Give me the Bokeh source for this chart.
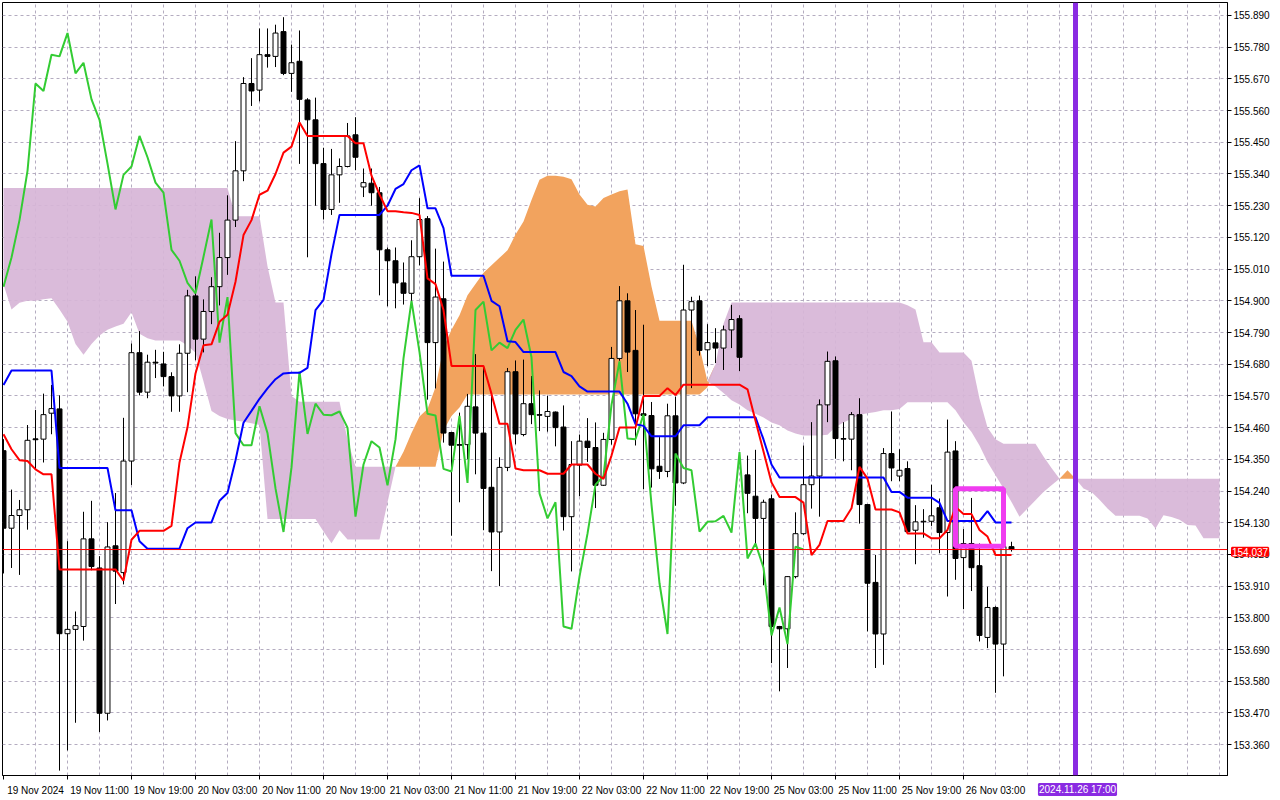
import numpy as np
from bokeh.plotting import figure
from bokeh.layouts import column
from bokeh.models import FixedTicker, Span, Label, Range1d, PrintfTickFormatter
from bokeh.embed import file_html
from bokeh.resources import INLINE

# ---------------- data (H1 bars, bar index 0..126) ----------------
open_ = [154.380,154.111,154.155,154.175,154.421,154.420,154.510,154.525,153.745,153.760,
         153.770,154.074,153.973,153.469,154.050,153.957,154.344,154.720,154.583,154.687,
         154.681,154.637,154.570,154.718,154.917,154.767,154.863,154.949,155.050,155.180,
         155.351,155.654,155.631,155.754,155.748,155.834,155.689,155.731,155.597,155.528,
         155.376,155.217,155.337,155.366,155.476,155.295,155.308,155.275,155.077,155.039,
         154.962,154.926,155.053,155.185,154.755,154.907,154.443,154.401,154.401,154.532,
         154.441,154.253,154.098,154.322,154.654,154.436,154.543,154.505,154.499,154.514,
         154.462,154.151,154.330,154.413,154.391,154.260,154.419,154.700,154.900,154.728,
         154.508,154.502,154.326,154.308,154.501,154.268,154.868,154.900,154.730,154.754,
         154.736,154.799,154.838,154.296,154.222,154.145,154.213,153.770,153.762,153.943,
         154.092,154.262,154.292,154.539,154.692,154.422,154.420,154.505,154.193,153.923,
         153.744,154.370,154.292,154.318,154.104,154.133,154.135,154.182,154.096,154.379,
         154.009,154.058,153.981,153.732,153.836,153.709,154.047]
high = [154.420,154.245,154.209,154.469,154.521,154.578,154.608,154.572,154.066,153.822,
        154.168,154.206,154.014,154.132,154.233,154.494,154.752,154.795,154.713,154.730,
        154.723,154.652,154.749,154.938,154.985,154.905,154.982,155.136,155.266,155.454,
        155.676,155.742,155.845,155.845,155.858,155.884,155.789,155.838,155.603,155.605,
        155.431,155.427,155.394,155.517,155.537,155.359,155.359,155.295,155.085,155.085,
        155.033,155.110,155.256,155.194,155.081,155.036,154.445,154.512,154.577,154.715,
        154.674,154.577,154.357,154.667,154.693,154.696,154.639,154.589,154.570,154.516,
        154.537,154.413,154.436,154.493,154.478,154.442,154.740,154.951,154.926,154.868,
        154.817,154.549,154.427,154.543,154.567,155.025,154.914,154.918,154.819,154.805,
        154.814,154.886,154.850,154.363,154.383,154.210,154.228,153.772,153.945,154.166,
        154.398,154.479,154.558,154.724,154.707,154.479,154.514,154.562,154.195,154.018,
        154.389,154.516,154.385,154.343,154.191,154.177,154.262,154.214,154.488,154.413,
        154.108,154.216,154.058,153.908,153.840,154.058,154.064]
low = [153.954,153.973,153.949,154.106,154.315,154.339,154.437,153.270,153.340,153.436,
       153.721,153.965,153.404,153.444,153.848,153.916,154.261,154.572,154.562,154.632,
       154.603,154.515,154.515,154.583,154.694,154.721,154.819,154.884,154.990,155.156,
       155.315,155.576,155.592,155.709,155.711,155.683,155.625,155.375,155.051,155.230,
       155.182,155.198,155.240,155.363,155.353,155.260,155.230,154.919,154.881,154.874,
       154.887,154.900,155.023,154.557,154.596,154.408,154.085,154.201,154.350,154.298,
       154.104,153.962,153.910,154.309,154.402,154.430,154.472,154.448,154.446,154.395,
       154.103,153.961,154.222,154.341,154.181,154.258,154.401,154.692,154.653,154.398,
       154.246,154.252,154.282,154.288,154.189,154.264,154.597,154.710,154.674,154.684,
       154.660,154.736,154.656,154.163,154.050,153.913,153.643,153.545,153.626,153.937,
       154.088,154.179,154.151,154.479,154.352,154.343,154.312,154.127,153.753,153.626,
       153.637,154.274,154.274,154.095,153.986,154.078,154.119,154.024,153.874,153.932,
       153.830,153.893,153.718,153.695,153.540,153.597,154.030]
close = [154.111,154.155,154.175,154.416,154.418,154.505,154.526,153.745,153.760,153.773,
         154.074,153.978,153.469,154.046,153.962,154.344,154.720,154.583,154.687,154.684,
         154.637,154.570,154.718,154.917,154.767,154.863,154.949,155.050,155.180,155.351,
         155.654,155.628,155.754,155.748,155.829,155.689,155.726,155.599,155.528,155.376,
         155.217,155.337,155.366,155.472,155.398,155.310,155.275,155.077,155.039,154.962,
         154.926,155.053,155.182,154.755,154.913,154.441,154.399,154.399,154.534,154.441,
         154.249,154.098,154.322,154.654,154.438,154.543,154.505,154.503,154.516,154.460,
         154.151,154.332,154.413,154.391,154.260,154.419,154.700,154.900,154.722,154.508,
         154.502,154.317,154.308,154.501,154.268,154.868,154.897,154.728,154.755,154.736,
         154.799,154.835,154.704,154.232,154.145,154.201,153.770,153.762,153.943,154.092,
         154.262,154.292,154.539,154.690,154.422,154.420,154.505,154.193,153.920,153.744,
         154.370,154.320,154.312,154.099,154.133,154.135,154.154,154.096,154.375,154.006,
         154.058,153.974,153.739,153.836,153.709,154.047,154.037]

tenkan = [154.437,154.385,154.347,154.344,154.315,154.298,154.298,153.968,153.968,153.968,
          153.968,153.968,153.968,153.968,153.968,153.929,154.071,154.102,154.102,154.102,
          154.102,154.119,154.339,154.461,154.648,154.746,154.749,154.827,154.852,154.966,
          155.128,155.180,155.268,155.282,155.340,155.414,155.435,155.519,155.472,155.472,
          155.472,155.472,155.472,155.472,155.447,155.447,155.334,155.269,155.211,155.211,
          155.207,155.205,155.198,154.978,154.958,154.868,154.674,154.674,154.674,154.674,
          154.674,154.577,154.473,154.473,154.318,154.312,154.312,154.312,154.300,154.300,
          154.300,154.332,154.332,154.332,154.300,154.282,154.363,154.460,154.460,154.460,
          154.570,154.570,154.570,154.597,154.573,154.609,154.609,154.609,154.609,154.609,
          154.609,154.609,154.609,154.593,154.484,154.377,154.270,154.219,154.219,154.219,
          154.200,154.018,154.053,154.136,154.136,154.136,154.180,154.324,154.283,154.176,
          154.176,154.176,154.166,154.093,154.093,154.093,154.076,154.076,154.105,154.185,
          154.160,154.160,154.105,154.082,154.018,154.018,154.018]
kijun = [154.608,154.658,154.658,154.658,154.658,154.658,154.658,154.320,154.320,154.320,
         154.320,154.320,154.320,154.320,154.173,154.173,154.173,154.066,154.040,154.040,
         154.040,154.040,154.040,154.111,154.131,154.131,154.131,154.206,154.233,154.347,
         154.477,154.518,154.560,154.596,154.628,154.648,154.650,154.650,154.667,154.868,
         154.903,155.062,155.198,155.198,155.198,155.198,155.198,155.198,155.230,155.288,
         155.305,155.353,155.370,155.221,155.221,155.152,154.987,154.987,154.987,154.987,
         154.987,154.900,154.881,154.760,154.757,154.722,154.722,154.722,154.722,154.722,
         154.653,154.639,154.603,154.585,154.585,154.585,154.585,154.585,154.543,154.472,
         154.466,154.430,154.430,154.430,154.430,154.468,154.468,154.468,154.496,154.496,
         154.496,154.496,154.496,154.496,154.496,154.419,154.332,154.287,154.287,154.287,
         154.287,154.287,154.287,154.287,154.287,154.287,154.287,154.287,154.287,154.287,
         154.287,154.237,154.237,154.217,154.217,154.217,154.217,154.199,154.136,154.136,
         154.136,154.136,154.136,154.170,154.131,154.131,154.131]

# Senkou spans, already displaced 26 bars ahead (bar index 0..152)
span_a = [154.957,154.870,154.893,154.900,154.900,154.905,154.909,154.870,154.827,154.750,
          154.713,154.750,154.780,154.800,154.811,154.820,154.860,154.786,154.770,154.762,
          154.762,154.762,154.762,154.745,154.720,154.620,154.518,154.500,154.490,154.485,
          154.480,154.475,154.469,154.143,154.143,154.143,154.143,154.143,154.143,154.143,
          154.100,154.059,154.104,154.072,154.072,154.072,154.072,154.072,154.200,154.324,
          154.376,154.441,154.499,154.525,154.600,154.738,154.800,154.850,154.919,154.958,
          154.997,155.023,155.049,155.075,155.130,155.175,155.250,155.320,155.334,155.334,
          155.330,155.322,155.269,155.233,155.227,155.257,155.269,155.280,155.286,155.096,
          155.090,154.950,154.831,154.831,154.831,154.831,154.831,154.740,154.620,154.603,
          154.580,154.555,154.540,154.520,154.508,154.495,154.478,154.468,154.450,154.440,
          154.433,154.433,154.433,154.435,154.462,154.478,154.491,154.505,154.510,154.514,
          154.520,154.520,154.525,154.548,154.548,154.548,154.548,154.548,154.548,154.520,
          154.479,154.445,154.398,154.341,154.295,154.249,154.202,154.151,154.179,154.208,
          154.237,154.260,154.283,154.312,154.283,154.249,154.237,154.210,154.179,154.154,
          154.154,154.154,154.154,154.145,154.110,154.156,154.150,154.140,154.122,154.120,
          154.076,154.076,154.076]
span_b = [155.291,155.291,155.291,155.291,155.291,155.291,155.291,155.291,155.291,155.291,
          155.291,155.291,155.291,155.291,155.291,155.291,155.291,155.291,155.291,155.291,
          155.291,155.291,155.291,155.291,155.291,155.291,155.291,155.291,155.291,155.193,
          155.193,155.193,155.193,155.020,154.894,154.894,154.570,154.550,154.550,154.550,
          154.550,154.550,154.550,154.420,154.324,154.324,154.324,154.324,154.324,154.324,
          154.324,154.324,154.324,154.324,154.324,154.450,154.500,154.530,154.575,154.575,
          154.575,154.575,154.575,154.575,154.575,154.575,154.575,154.575,154.575,154.575,
          154.575,154.575,154.575,154.575,154.575,154.575,154.575,154.575,154.575,154.575,
          154.575,154.575,154.575,154.575,154.575,154.575,154.575,154.575,154.600,154.680,
          154.820,154.894,154.894,154.894,154.894,154.894,154.894,154.894,154.894,154.894,
          154.894,154.894,154.894,154.894,154.894,154.894,154.894,154.894,154.894,154.894,
          154.894,154.894,154.894,154.885,154.870,154.756,154.756,154.721,154.721,154.721,
          154.721,154.692,154.560,154.460,154.420,154.404,154.404,154.404,154.404,154.404,
          154.360,154.320,154.283,154.283,154.283,154.283,154.283,154.283,154.283,154.283,
          154.283,154.283,154.283,154.283,154.283,154.283,154.283,154.283,154.283,154.283,
          154.283,154.283,154.283]

# time axis labels (bar index -> text)
label_bars = [0, 8, 16, 24, 32, 40, 48, 56, 64, 72, 80, 88, 96, 104, 112, 120]
label_texts = ["19 Nov 2024", "19 Nov 11:00", "19 Nov 19:00", "20 Nov 03:00", "20 Nov 11:00",
               "20 Nov 19:00", "21 Nov 03:00", "21 Nov 11:00", "21 Nov 19:00", "22 Nov 03:00",
               "22 Nov 11:00", "22 Nov 19:00", "25 Nov 03:00", "25 Nov 11:00", "25 Nov 19:00",
               "26 Nov 03:00"]
price_ticks = [155.890, 155.780, 155.670, 155.560, 155.450, 155.340, 155.230, 155.120, 155.010,
               154.900, 154.790, 154.680, 154.570, 154.460, 154.350, 154.240, 154.130, 154.020,
               153.910, 153.800, 153.690, 153.580, 153.470, 153.360]
current_price = 154.037
marker_bar = 134
marker_text = "2024.11.26 17:00"
box_bar_start, box_bar_end = 119, 125
box_low, box_high = 154.048, 154.248

# ---------------- layout ----------------
FONT = "Liberation Sans"
W, H = 1272, 798                 # canvas
BL, BT, BR, BB = 2, 2, 45, 20    # borders round the frame
FW, FH = W - BL - BR, H - BT - BB
X0, X1 = -0.125, 153.0
Y0, Y1 = 153.253, 155.935
ppb = FW / (X1 - X0)             # px per bar
ppu = FH / (Y1 - Y0)             # px per price unit

p = figure(width=W, height=H, output_backend="svg", toolbar_location=None,
           x_range=Range1d(X0, X1), y_range=Range1d(Y0, Y1),
           y_axis_location="right", min_border_left=BL, min_border_top=BT,
           min_border_right=BR, min_border_bottom=BB, background_fill_color="white",
           border_fill_color="white", outline_line_color="black")

# grid
p.xgrid.ticker = FixedTicker(ticks=list(range(4, 153, 4)))
for g in (p.xgrid[0], p.ygrid[0]):
    g.grid_line_color = "#B4ACC0"
    g.grid_line_dash = "3 3"
    g.grid_line_width = 1

# right price axis
p.yaxis.ticker = FixedTicker(ticks=price_ticks)
p.yaxis.formatter = PrintfTickFormatter(format="%.3f")
p.yaxis.major_label_text_font = FONT
p.yaxis.major_label_text_font_size = "10px"
p.yaxis.major_label_text_color = "black"
p.yaxis.major_tick_out = 4
p.yaxis.major_tick_in = 0
p.yaxis.minor_tick_line_color = None
p.yaxis.major_label_standoff = 2
p.yaxis.axis_line_color = "black"

# bottom time axis: labels start right after their tick
centers = [b + 4 for b in label_bars]
p.xaxis.ticker = FixedTicker(ticks=centers, minor_ticks=label_bars)
p.xaxis.major_label_overrides = {c: t for c, t in zip(centers, label_texts)}
p.xaxis.major_tick_line_color = None
p.xaxis.minor_tick_out = 4
p.xaxis.minor_tick_in = 0
p.xaxis.minor_tick_line_color = "black"
p.xaxis.major_label_text_font = FONT
p.xaxis.major_label_text_font_size = "10px"
p.xaxis.major_label_text_color = "black"
p.xaxis.major_label_standoff = 3
p.xaxis.axis_line_color = "black"

# cloud
a = np.array(span_a)
b = np.array(span_b)
cx = np.arange(len(a))
top = np.maximum(a, b)
p.varea(x=cx, y1=b, y2=top, fill_color="#F2A35E", fill_alpha=1.0)
p.varea(x=cx, y1=a, y2=top, fill_color="#D7B5D7", fill_alpha=0.92)

# current price line & time marker
p.add_layout(Span(location=current_price, dimension="width", line_color="#FF0000", line_width=1))
p.add_layout(Span(location=marker_bar, dimension="height", line_color="#8A2BE2", line_width=5))

# candles
idx = np.arange(len(close))
o = np.array(open_); c = np.array(close); h = np.array(high); l = np.array(low)
p.segment(x0=idx, y0=l, x1=idx, y1=h, line_color="black", line_width=1)
up = c >= o
p.vbar(x=idx[up], width=0.62, top=c[up], bottom=o[up], fill_color="white", line_color="black", line_width=1)
dn = ~up
p.vbar(x=idx[dn], width=0.62, top=o[dn], bottom=c[dn], fill_color="black", line_color="black", line_width=1)

# ichimoku lines
p.line(idx[26:] - 26, c[26:], line_color="#33CC33", line_width=2)
p.line(idx, kijun, line_color="#0000FF", line_width=2)
p.line(idx, tenkan, line_color="#FF0000", line_width=2)

# highlight box
p.quad(left=[box_bar_start], right=[box_bar_end], bottom=[box_low], top=[box_high],
       fill_color=None, line_color="#F03CF0", line_width=5)

# ---------- transparent overlay (same scales, spans the whole canvas) for the tags ----------
ov = figure(frame_width=W, frame_height=H, output_backend="svg", toolbar_location=None,
            x_range=Range1d(X0 - BL / ppb, X0 + (W - BL) / ppb),
            y_range=Range1d(Y1 - (H - BT) / ppu, Y1 + BT / ppu),
            min_border_left=0, min_border_right=0, min_border_top=0, min_border_bottom=0,
            outline_line_color=None, x_axis_location=None, y_axis_location=None,
            background_fill_alpha=0, border_fill_alpha=0)
ov.grid.visible = False
ov.styles = {"margin-top": f"-{H}px"}
ov.add_layout(Label(x=X1 + 2.5 / ppb, y=current_price, text="154.037",
                    text_font=FONT, text_font_size="10px", text_color="white",
                    text_baseline="middle", background_fill_color="#FF0000",
                    border_line_color="#FF0000", border_line_width=2))
ov.add_layout(Label(x=marker_bar, y=Y0 - 11 / ppu, text=marker_text,
                    text_font=FONT, text_font_size="10px", text_color="white",
                    text_align="center", text_baseline="middle", background_fill_color="#8A2BE2",
                    border_line_color="#8A2BE2", border_line_width=2))

page = column(p, ov, spacing=0)
open("out.html", "w").write(file_html(page, INLINE))
